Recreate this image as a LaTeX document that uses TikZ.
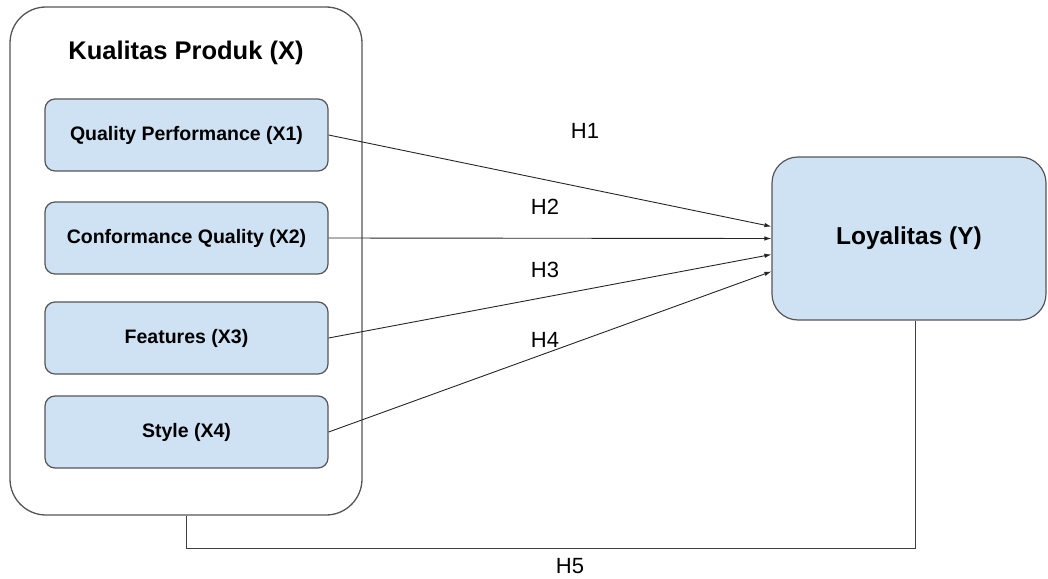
\documentclass[tikz,border=0pt]{standalone}
\usepackage{fontspec}
\setmainfont{Liberation Sans}
\usetikzlibrary{arrows.meta,calc}
\definecolor{boxfill}{HTML}{CFE2F3}
\definecolor{boxline}{HTML}{555555}
\tikzset{
  outerbox/.style={draw=boxline, line width=1.3pt, rounded corners=36pt, minimum width=352pt, minimum height=508pt, inner sep=0pt},
  dimbox/.style={draw=boxline, fill=boxfill, line width=1.2pt, rounded corners=10pt, minimum width=283pt, minimum height=72pt, inner sep=0pt, font=\fontsize{19.5pt}{23pt}\selectfont\bfseries},
  ybox/.style={draw=boxline, fill=boxfill, line width=1.2pt, rounded corners=26pt, minimum width=274pt, minimum height=163pt, inner sep=0pt, font=\fontsize{24.5pt}{28pt}\selectfont\bfseries},
  titletext/.style={font=\fontsize{25.5pt}{29pt}\selectfont\bfseries, inner sep=0pt},
  hlabel/.style={font=\fontsize{22pt}{26pt}\selectfont, inner sep=0pt},
  conn/.style={draw=black!85, line width=0.9pt, -{Latex[length=7pt,width=4.5pt]}},
  plainconn/.style={draw=black!75, line width=1pt}
}
\begin{document}
\begin{tikzpicture}[x=1pt,y=-1pt]
\useasboundingbox (0,0) rectangle (1048,578);
\node[outerbox] (X) at (186,261) {};
\node[titletext] (Xt) at (186,53) {Kualitas Produk (X)};
\node[dimbox] (X1) at (186.5,135) {Quality Performance (X1)};
\node[dimbox] (X2) at (186.5,238) {Conformance Quality (X2)};
\node[dimbox] (X3) at (186.5,338) {Features (X3)};
\node[dimbox] (X4) at (186.5,432) {Style (X4)};
\node[ybox] (Y) at (909,238.5) {Loyalitas (Y)};
\draw[conn] (X1.east) -- ([yshift=12pt]Y.west);
\draw[conn] (X2.east) -- (Y.west);
\draw[conn] (X3.east) -- ([yshift=-16pt]Y.west);
\draw[conn] (X4.east) -- ([yshift=-33pt]Y.west);
\coordinate (ydown) at ([xshift=6pt]Y.south);
\draw[plainconn] (X.south) -- ++(0,33) -| (ydown);
\node[hlabel] (h1) at (585,131) {H1};
\node[hlabel] (h2) at (545,207) {H2};
\node[hlabel] (h3) at (545,270) {H3};
\node[hlabel] (h4) at (545,340) {H4};
\node[hlabel] (h5) at (570,566) {H5};
\end{tikzpicture}
\end{document}
